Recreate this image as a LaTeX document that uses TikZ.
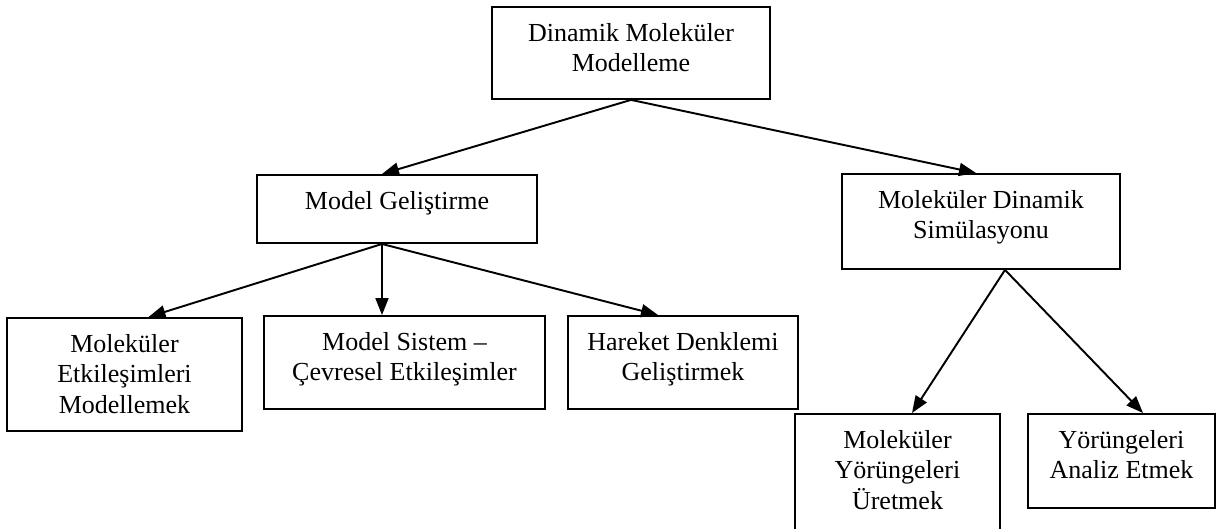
\documentclass[tikz,border=0pt]{standalone}
\usepackage{fontspec}
\setmainfont{Liberation Serif}
\usetikzlibrary{arrows.meta, positioning, calc}

\begin{document}
\begin{tikzpicture}[
  x=0.02cm, y=-0.02cm,
  box/.style={draw, rectangle, anchor=north, align=center, inner xsep=0pt, inner ysep=0.32cm, line width=1.1pt, font=\fontsize{14.8}{17.6}\selectfont},
  flow/.style={-{Triangle[length=0.34cm, width=0.26cm]}, line width=1.1pt}
]
\useasboundingbox (0,0) rectangle (1229,528);
\node[box, minimum width=5.56cm, text depth=0.22cm] (dmm) at (631,6) {Dinamik Moleküler\\Modelleme};
\node[box, minimum width=5.6cm, text depth=0.36cm] (mg) at (397,174) {Model Geliştirme};
\node[box, minimum width=5.56cm, text depth=0.28cm] (mds) at (981,173) {Moleküler Dinamik\\Simülasyonu};
\node[box, minimum width=4.7cm, text depth=0.02cm] (me) at (124.5,317) {Moleküler\\Etkileşimleri\\Modellemek};
\node[box, minimum width=5.62cm, text depth=0.24cm] (ms) at (404.5,315) {Model Sistem --\\Çevresel Etkileşimler};
\node[box, minimum width=4.6cm, text depth=0.24cm] (hdg) at (683,315) {Hareket Denklemi\\Geliştirmek};
\node[box, minimum width=4.1cm, text depth=0.4cm] (myu) at (897.5,413) {Moleküler\\Yörüngeleri\\Üretmek};
\node[box, minimum width=3.74cm, text depth=0.26cm] (yae) at (1121.5,413) {Yörüngeleri\\Analiz Etmek};
\draw[flow] (dmm.south) -- ([xshift=-0.3cm]mg.north);
\draw[flow] (dmm.south) -- ([xshift=-0.1cm]mds.north);
\draw[flow] ([xshift=-0.3cm]mg.south) -- ([xshift=0.48cm]me.north);
\draw[flow] ([xshift=-0.3cm]mg.south) -- ([xshift=-0.45cm]ms.north);
\draw[flow] ([xshift=-0.3cm]mg.south) -- ([xshift=-0.5cm]hdg.north);
\draw[flow] ([xshift=0.48cm]mds.south) -- ([xshift=0.29cm]myu.north);
\draw[flow] ([xshift=0.48cm]mds.south) -- ([xshift=0.43cm]yae.north);
\end{tikzpicture}
\end{document}
